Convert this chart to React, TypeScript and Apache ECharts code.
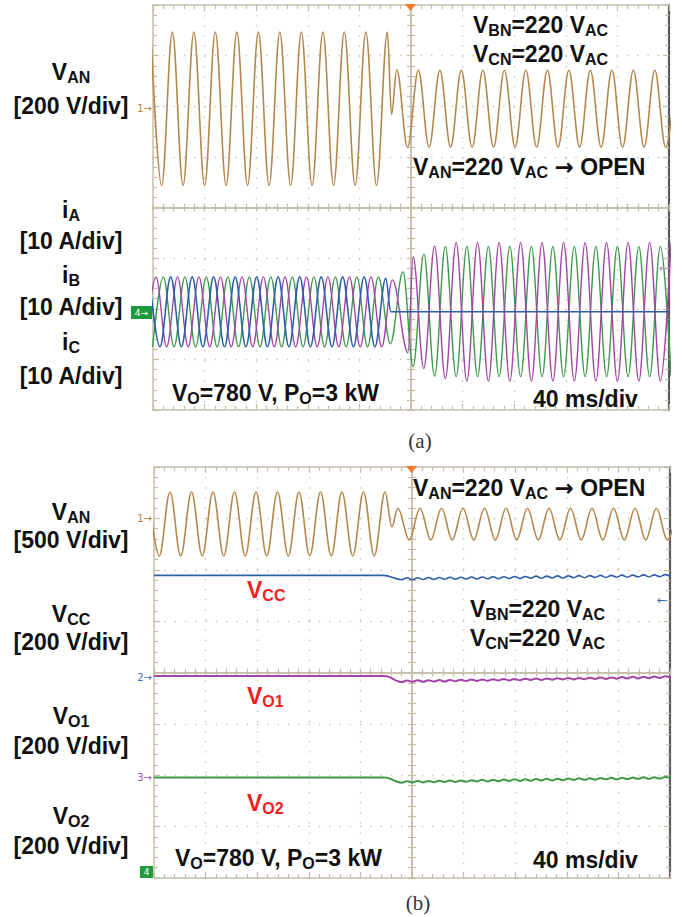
import React, { useEffect, useRef } from 'react';
import * as echarts from 'echarts';

type Pt = [number, number];

// ---------- time axis (ms, trigger at 0), 40 ms/div ----------
const TIME_MIN = -200;
const TIME_MAX = 200;
const TIME_DIV = 40;

// ---------- panel (a): V_AN [V] extremes ----------
const vanA: Pt[] = [
  [-201.7, 303], [-193.3, -303], [-185.0, 303], [-176.7, -303], [-168.3, 303], [-160.0, -303],
  [-151.7, 303], [-143.3, -303], [-135.0, 303], [-126.7, -303], [-118.3, 303], [-110.0, -303],
  [-101.7, 303], [-93.3, -303], [-85.0, 303], [-76.7, -303], [-68.3, 303], [-60.0, -303],
  [-51.7, 303], [-43.3, -303], [-35.0, 303], [-26.7, -303], [-18.3, 303], [-15.1, -22],
  [-11.0, 154], [-2.7, -152], [5.7, 152], [14.0, -152], [22.4, 152], [30.7, -152], [39.0, 152],
  [47.4, -152], [55.7, 152], [64.0, -152], [72.4, 152], [80.7, -152], [89.0, 152], [97.4, -152],
  [105.7, 152], [114.0, -152], [122.4, 152], [130.7, -152], [139.0, 152], [147.4, -152],
  [155.7, 152], [164.0, -152], [172.4, 152], [180.7, -152], [189.0, 152], [197.4, -152], [205.7, 152],
];

// ---------- panel (a): phase currents [A] ----------
const iA: Pt[] = [
  [-202.9, 6.9], [-194.6, -6.9], [-186.3, 6.9], [-178.0, -6.9], [-169.6, 6.9], [-161.3, -6.9],
  [-153.0, 6.9], [-144.6, -6.9], [-136.3, 6.9], [-128.0, -6.9], [-119.6, 6.9], [-111.3, -6.9],
  [-103.0, 6.9], [-94.6, -6.9], [-86.3, 6.9], [-78.0, -6.9], [-69.6, 6.9], [-61.3, -6.9],
  [-53.0, 6.9], [-44.6, -6.9], [-36.3, 6.9], [-28.0, -6.9], [-19.6, 6.6], [-15.6, 0], [200, 0],
];
const iB: Pt[] = [
  [-206.0, -6.9], [-197.7, 6.9], [-189.4, -6.9], [-181.0, 6.9], [-172.7, -6.9], [-164.4, 6.9],
  [-156.0, -6.9], [-147.7, 6.9], [-139.4, -6.9], [-131.0, 6.9], [-122.7, -6.9], [-114.4, 6.9],
  [-106.0, -6.9], [-97.7, 6.9], [-89.4, -6.9], [-81.0, 6.9], [-72.7, -6.9], [-64.4, 6.9],
  [-56.0, -6.9], [-47.7, 6.9], [-39.4, -6.9], [-31.0, 6.9], [-22.7, -6.9], [-14.4, 6.3],
  [-2.3, -8.1], [1.6, 10.9], [9.9, -11.2], [18.3, 13.0], [26.6, -13.2], [35.0, 13.7],
  [43.3, -13.7], [51.6, 13.7], [60.0, -13.7], [68.3, 13.7], [76.6, -13.7], [85.0, 13.7],
  [93.3, -13.7], [101.6, 13.7], [110.0, -13.7], [118.3, 13.7], [126.6, -13.7], [135.0, 13.7],
  [143.3, -13.7], [151.6, 13.7], [160.0, -13.7], [168.3, 13.7], [176.6, -13.7], [185.0, 13.7],
  [193.3, -13.7], [201.6, 13.7],
];
const iC: Pt[] = [
  [-200.3, -6.9], [-192.0, 6.9], [-183.7, -6.9], [-175.3, 6.9], [-167.0, -6.9], [-158.7, 6.9],
  [-150.3, -6.9], [-142.0, 6.9], [-133.7, -6.9], [-125.3, 6.9], [-117.0, -6.9], [-108.7, 6.9],
  [-100.3, -6.9], [-92.0, 6.9], [-83.7, -6.9], [-75.3, 6.9], [-67.0, -6.9], [-58.7, 6.9],
  [-50.3, -6.9], [-42.0, 6.9], [-33.7, -6.9], [-25.3, 6.9], [-16.0, -6.3], [-6.2, 7.9],
  [1.6, -10.8], [10.0, 11.4], [18.3, -12.7], [26.6, 12.9], [35.0, -12.8], [43.3, 12.9],
  [51.6, -12.8], [60.0, 12.9], [68.3, -12.8], [76.6, 12.9], [85.0, -12.8], [93.3, 12.9],
  [101.6, -12.8], [110.0, 12.9], [118.3, -12.8], [126.6, 12.9], [135.0, -12.8], [143.3, 12.9],
  [151.6, -12.8], [160.0, 12.9], [168.3, -12.8], [176.6, 12.9], [185.0, -12.8], [193.3, 12.9],
  [201.6, -12.8],
];

// ---------- panel (b): V_AN [V] ----------
const vanB: Pt[] = [
  [-204.3, 311], [-195.9, -311], [-187.6, 311], [-179.3, -311], [-170.9, 311], [-162.6, -311],
  [-154.3, 311], [-145.9, -311], [-137.6, 311], [-129.3, -311], [-120.9, 311], [-112.6, -311],
  [-104.3, 311], [-95.9, -311], [-87.6, 311], [-79.3, -311], [-70.9, 311], [-62.6, -311],
  [-54.3, 311], [-45.9, -311], [-37.6, 311], [-29.3, -311], [-20.9, 311], [-15.6, -26],
  [-11.0, 154], [-2.1, -154], [6.2, 154], [14.6, -154], [22.9, 154], [31.2, -154], [39.5, 154],
  [47.9, -154], [56.2, 154], [64.6, -154], [72.9, 154], [81.2, -154], [89.5, 154], [97.9, -154],
  [106.2, 154], [114.6, -154], [122.9, 154], [131.2, -154], [139.5, 154], [147.9, -154],
  [156.2, 154], [164.6, -154], [172.9, 154], [181.2, -154], [189.5, 154], [197.9, -154], [206.2, 154],
];

// ---------- panel (b): DC voltages [V] ----------
const rippleT = [
  -8.0, -3.8, 0.3, 4.5, 8.7, 12.8, 17.0, 21.2, 25.3, 29.5, 33.7, 37.8, 42.0, 46.2, 50.3, 54.5,
  58.7, 62.8, 67.0, 71.2, 75.3, 79.5, 83.7, 87.8, 92.0, 96.2, 100.3, 104.5, 108.7, 112.8, 117.0,
  121.2, 125.3, 129.5, 133.7, 137.8, 142.0, 146.2, 150.3, 154.5, 158.7, 162.8, 167.0, 171.2,
  175.3, 179.5, 183.7, 187.8, 192.0, 196.2, 200.4,
];
const vccPre: Pt[] = [[-200, 390], [-22, 390]];
const vccRipple = [
  373, 381, 373, 381, 374, 382, 374, 382, 375, 383, 375, 383, 376, 384, 376, 384, 377, 385, 377,
  385, 378, 386, 378, 386, 379, 387, 379, 387, 380, 388, 380, 388, 381, 389, 381, 389, 382, 390,
  382, 390, 383, 391, 383, 391, 384, 392, 384, 392, 385, 393, 385,
];
const vo1Pre: Pt[] = [[-200, 390], [-21, 390]];
const vo1Ripple = [
  367, 373, 368, 374, 368, 374, 369, 375, 369, 375, 370, 376, 371, 377, 371, 377, 372, 378, 373,
  379, 373, 379, 374, 380, 375, 381, 375, 381, 376, 382, 377, 383, 377, 383, 378, 384, 379, 385,
  379, 385, 380, 386, 381, 387, 381, 387, 382, 388, 383, 389, 384,
];
const vo2Pre: Pt[] = [[-200, 391], [-21, 391]];
const vo2Ripple = [
  371, 377, 372, 378, 372, 378, 373, 379, 374, 380, 374, 380, 375, 381, 376, 382, 376, 382, 377,
  383, 378, 384, 378, 384, 379, 385, 380, 386, 380, 386, 381, 387, 382, 388, 382, 388, 383, 389,
  384, 390, 384, 390, 385, 391, 386, 392, 386, 392, 387, 393, 388,
];

// ---------- layout / style ----------
const W = 682;
const H = 917;
const PANELS = [
  { left: 153, top: 5, width: 516, height: 405 },
  { left: 154, top: 467, width: 516, height: 411 },
];
// channel vertical position (div from centre) and scale (unit/div)
const CH = {
  aV: { off: 1.95, scale: 200 },
  aI: { off: -2.06, scale: 10 },
  bV: { off: 2.89, scale: 500 },
  bCC: { off: -0.06, scale: 200 },
  bO1: { off: -2.02, scale: 200 },
  bO2: { off: -4.0, scale: 200 },
};
const GRID_C = '#c4bea8';
const DOT_C = '#c8c3b3';
const FONT = '"Liberation Sans", Arial, Helvetica, sans-serif';
const VAN_C = '#b5874c';
const BLUE = '#2d5ea8';
const PINK = '#a343a8';
const GREEN = '#3d9a4a';
const RED = '#ee2222';
const INK = '#111111';

const zip = (t: number[], v: number[]): Pt[] => t.map((x, i) => [x, v[i]] as Pt);

function xAxes(g: number, p: { height: number }) {
  const base = {
    type: 'value', gridIndex: g, min: TIME_MIN, max: TIME_MAX, interval: TIME_DIV,
    axisLabel: { show: false }, splitLine: { show: false },
  };
  const line = (color = GRID_C) => ({ show: true, onZero: false, lineStyle: { color, width: 1.5 } });
  const tick = (inside: boolean, length: number) => ({ show: true, inside, length, lineStyle: { color: GRID_C, width: 1.2 } });
  const minor = (length: number) => ({ show: true, splitNumber: 5, length, lineStyle: { color: GRID_C, width: 1.2 } });
  return [
    {
      ...base, position: 'bottom', axisLine: line(), axisTick: tick(true, 6), minorTick: minor(4),
      splitLine: { show: true, showMinLine: false, showMaxLine: false, lineStyle: { color: DOT_C, width: 1.4, type: [1.4, 8.75] } },
    },
    { ...base, position: 'top', axisLine: line(), axisTick: tick(true, 6), minorTick: minor(4) },
    { ...base, position: 'bottom', offset: -p.height / 2, axisLine: line(), axisTick: tick(true, 4), minorTick: minor(4) },
    { ...base, position: 'bottom', offset: -p.height / 2, axisLine: line(), axisTick: tick(false, 4), minorTick: minor(4) },
  ];
}

function yAxes(g: number, p: { width: number }) {
  const base = {
    type: 'value', gridIndex: g, min: -4, max: 4, interval: 1,
    axisLabel: { show: false }, splitLine: { show: false },
  };
  const line = (color = GRID_C, width = 1.5) => ({ show: true, onZero: false, lineStyle: { color, width } });
  const tick = (inside: boolean, length: number) => ({ show: true, inside, length, lineStyle: { color: GRID_C, width: 1.2 } });
  const minor = (length: number) => ({ show: true, splitNumber: 5, length, lineStyle: { color: GRID_C, width: 1.2 } });
  return [
    {
      ...base, position: 'left', axisLine: line(), axisTick: tick(true, 6), minorTick: minor(4),
      splitLine: { show: true, showMinLine: false, showMaxLine: false, lineStyle: { color: DOT_C, width: 1.4, type: [1.4, 8.9] } },
    },
    { ...base, position: 'right', axisLine: line('#5a5a5a', 2.2), axisTick: tick(true, 6), minorTick: minor(4) },
    { ...base, position: 'left', offset: -p.width / 2, axisLine: line(), axisTick: tick(true, 4), minorTick: minor(4) },
    { ...base, position: 'left', offset: -p.width / 2, axisLine: line(), axisTick: tick(false, 4), minorTick: minor(4) },
  ];
}

const chAxis = (g: number, c: { off: number; scale: number }) => ({
  type: 'value', gridIndex: g, show: false,
  min: (-4 - c.off) * c.scale, max: (4 - c.off) * c.scale,
});

const trace = (data: Pt[], xi: number, yi: number, color: string, width: number) => ({
  type: 'line', data, xAxisIndex: xi, yAxisIndex: yi, showSymbol: false, symbol: 'none',
  smooth: 0.36, smoothMonotone: 'x', clip: true, silent: true,
  lineStyle: { color, width }, emphasis: { disabled: true },
});

const richFor = (color: string) => ({
  m: { fontSize: 23, fontWeight: 'bold', fontFamily: FONT, fill: color, lineHeight: 21 },
  s: { fontSize: 16, fontWeight: 'bold', fontFamily: FONT, fill: color, lineHeight: 9, padding: [11, 0, 0, 0] },
  a: { fontSize: 23, fontWeight: 'bold', fontFamily: '"DejaVu Sans", sans-serif', fill: color, lineHeight: 21 },
});

const label = (x: number, y: number, text: string, color = INK, align = 'left') => ({
  type: 'text', x, y, z: 20, silent: true,
  style: { text, rich: richFor(color), align, verticalAlign: 'middle', fill: color, fontSize: 23, fontWeight: 'bold', fontFamily: FONT },
});

const small = (x: number, y: number, text: string, color: string, size = 10, align = 'right') => ({
  type: 'text', x, y, z: 20, silent: true,
  style: { text, fill: color, fontSize: size, fontFamily: '"DejaVu Sans", sans-serif', align, verticalAlign: 'middle' },
});

const eq = (sub: string) => `{m|V}{s|${sub}}{m|=220 V}{s|AC}`;
const OPEN = `${eq('AN')}{m| }{a|→}{m| OPEN}`;

function buildOption() {
  const pa = PANELS[0];
  const pb = PANELS[1];
  const xAx = [...xAxes(0, pa), ...xAxes(1, pb)];
  const yAx = [
    ...yAxes(0, pa), chAxis(0, CH.aV), chAxis(0, CH.aI),
    ...yAxes(1, pb), chAxis(1, CH.bV), chAxis(1, CH.bCC), chAxis(1, CH.bO1), chAxis(1, CH.bO2),
  ];
  const series = [
    trace(vanA, 0, 4, VAN_C, 1.6),
    trace(iC, 0, 5, GREEN, 1.4),
    trace(iB, 0, 5, PINK, 1.4),
    trace(iA, 0, 5, BLUE, 1.6),
    trace(vanB, 4, 10, VAN_C, 1.6),
    trace([...vccPre, ...zip(rippleT, vccRipple)], 4, 11, BLUE, 1.6),
    trace([...vo1Pre, ...zip(rippleT, vo1Ripple)], 4, 12, PINK, 2),
    trace([...vo2Pre, ...zip(rippleT, vo2Ripple)], 4, 13, GREEN, 2),
  ];
  const LX = 71;
  const graphic = [
    // panel (a) annotations
    label(473, 25, eq('BN')),
    label(473, 53.5, eq('CN')),
    label(413, 166.5, OPEN),
    label(172, 393, '{m|V}{s|O}{m|=780 V, P}{s|O}{m|=3 kW}'),
    label(533, 399, '{m|40 ms/div}'),
    label(LX, 72, '{m|V}{s|AN}', INK, 'center'),
    label(LX, 106, '{m|[200 V/div]}', INK, 'center'),
    label(LX, 210, '{m|i}{s|A}', INK, 'center'),
    label(LX, 241, '{m|[10 A/div]}', INK, 'center'),
    label(LX, 275, '{m|i}{s|B}', INK, 'center'),
    label(LX, 307, '{m|[10 A/div]}', INK, 'center'),
    label(LX, 342, '{m|i}{s|C}', INK, 'center'),
    label(LX, 376, '{m|[10 A/div]}', INK, 'center'),
    // panel (b) annotations
    label(413, 487.5, OPEN),
    label(247, 590, '{m|V}{s|CC}', RED),
    label(470, 609, eq('BN')),
    label(470, 637.5, eq('CN')),
    label(247, 695.5, '{m|V}{s|O1}', RED),
    label(247, 802.5, '{m|V}{s|O2}', RED),
    label(175, 857.5, '{m|V}{s|O}{m|=780 V, P}{s|O}{m|=3 kW}'),
    label(533, 860, '{m|40 ms/div}'),
    label(LX, 512, '{m|V}{s|AN}', INK, 'center'),
    label(LX, 540, '{m|[500 V/div]}', INK, 'center'),
    label(LX, 614, '{m|V}{s|CC}', INK, 'center'),
    label(LX, 642, '{m|[200 V/div]}', INK, 'center'),
    label(LX, 716, '{m|V}{s|O1}', INK, 'center'),
    label(LX, 746, '{m|[200 V/div]}', INK, 'center'),
    label(LX, 816, '{m|V}{s|O2}', INK, 'center'),
    label(LX, 846, '{m|[200 V/div]}', INK, 'center'),
    // channel markers
    small(152, 108, '1→', '#c07c35'),
    { type: 'rect', z: 19, silent: true, shape: { x: 131, y: 306, width: 21, height: 13 }, style: { fill: '#1f9a3f' } },
    small(141.5, 312.5, '4→', '#ffffff', 9, 'center'),
    small(669, 268, '←', '#b48ab4', 12, 'right'),
    small(152, 518, '1→', '#c07c35'),
    small(152, 677, '2→', '#3a6ab8'),
    small(152, 777, '3→', '#a050a8'),
    { type: 'rect', z: 19, silent: true, shape: { x: 140, y: 866, width: 13, height: 12 }, style: { fill: '#1f9a3f' } },
    small(146.5, 872, '4', '#ffffff', 9, 'center'),
    small(667, 600, '←', '#3a6ab8', 12, 'right'),
    // trigger markers
    { type: 'polygon', z: 19, silent: true, shape: { points: [[405, 4], [416, 4], [410.5, 11]] }, style: { fill: '#f07a28' } },
    { type: 'polygon', z: 19, silent: true, shape: { points: [[406, 466], [417, 466], [411.5, 473]] }, style: { fill: '#f07a28' } },
    // captions
    { type: 'text', x: 420, y: 441, z: 20, silent: true, style: { text: '(a)', fill: '#333', fontSize: 21, fontFamily: '"Liberation Serif", serif', align: 'center', verticalAlign: 'middle' } },
    { type: 'text', x: 418, y: 903, z: 20, silent: true, style: { text: '(b)', fill: '#333', fontSize: 21, fontFamily: '"Liberation Serif", serif', align: 'center', verticalAlign: 'middle' } },
  ];
  return {
    animation: false,
    backgroundColor: '#ffffff',
    grid: PANELS.map((p) => ({ ...p, containLabel: false })),
    xAxis: xAx,
    yAxis: yAx,
    series,
    graphic,
  };
}

export default function App() {
  const ref = useRef<HTMLDivElement>(null);
  useEffect(() => {
    if (!ref.current) return;
    const chart = echarts.init(ref.current, null, { renderer: 'svg' });
    chart.setOption(buildOption() as any);
    return () => chart.dispose();
  }, []);
  return <div ref={ref} style={{ position: 'fixed', left: 0, top: 0, width: W, height: H, background: '#fff' }} />;
}
